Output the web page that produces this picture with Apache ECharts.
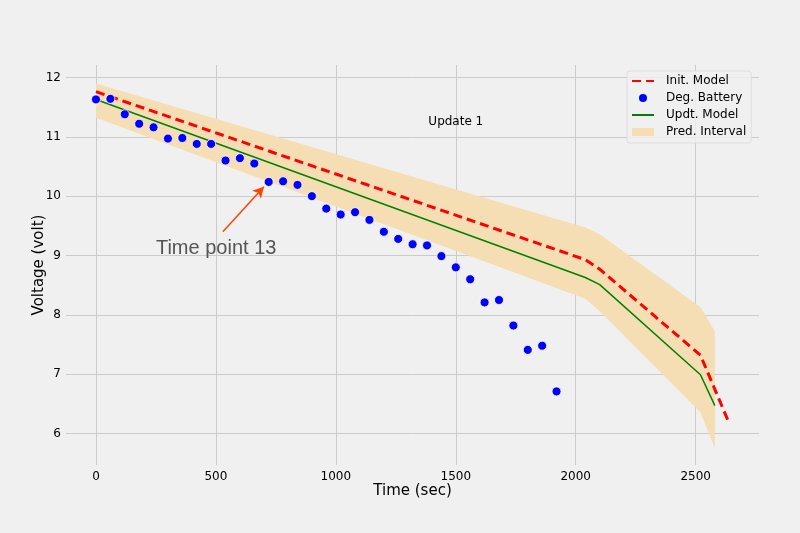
<!DOCTYPE html>
<html>
<head>
<meta charset="utf-8">
<script src="https://cdn.jsdelivr.net/npm/echarts@6/dist/echarts.min.js"></script>
<style>
  html, body { margin: 0; padding: 0; background: #f0f0f0; }
  #chart { width: 800px; height: 533px; }
</style>
</head>
<body>
<div id="chart"></div>
<script>
// measured battery voltage, one sample every 60 s
var batteryTime = [0, 60, 120, 180, 240, 300, 360, 420, 480, 540, 600, 660, 720, 780, 840, 900, 960,
    1020, 1080, 1140, 1200, 1260, 1320, 1380, 1440, 1500, 1560, 1620, 1680, 1740, 1800, 1860, 1920];
var batteryVolt = [11.63, 11.64, 11.38, 11.22, 11.16, 10.97, 10.98, 10.88, 10.88, 10.60, 10.64, 10.55, 10.24,
    10.25, 10.19, 10.00, 9.79, 9.69, 9.73, 9.60, 9.40, 9.28, 9.19, 9.17, 8.99, 8.80, 8.60, 8.21, 8.25, 7.82,
    7.41, 7.48, 6.71];

// initial model
var initTime = [0, 2040, 2100, 2520, 2640];
var initVolt = [11.76, 8.93, 8.77, 7.32, 6.17];

// updated model + prediction interval
var updtTime = [0, 2040, 2100, 2520, 2580];
var updtVolt = [11.63, 8.63, 8.51, 6.99, 6.47];
var bandUpper = [11.90, 9.47, 9.36, 8.13, 7.72];
var bandLower = [11.32, 8.27, 8.06, 6.36, 5.75];

var xTicks = [0, 500, 1000, 1500, 2000, 2500];
var yTicks = [6, 7, 8, 9, 10, 11, 12];

function pairs(xs, ys) {
    var out = [];
    for (var i = 0; i < xs.length; i++) {
        out.push([xs[i], ys[i]]);
    }
    return out;
}

// band rows: time, lower, upper
var bandRows = [];
for (var i = 0; i < updtTime.length; i++) {
    bandRows.push([updtTime[i], bandLower[i], bandUpper[i]]);
}

function renderBand(params, api) {
    if (params.dataIndex !== 0) {
        return null;
    }
    var top = [], bottom = [];
    for (var i = 0; i < bandRows.length; i++) {
        top.push(api.coord([bandRows[i][0], bandRows[i][2]]));
        bottom.unshift(api.coord([bandRows[i][0], bandRows[i][1]]));
    }
    return {
        type: 'polygon',
        shape: {points: top.concat(bottom)},
        style: {fill: '#f5deb3', stroke: null}
    };
}

var chart = echarts.init(document.getElementById('chart'), null, {renderer: 'canvas'});

var option = {
    animation: false,
    backgroundColor: '#f0f0f0',
    textStyle: {fontFamily: 'DejaVu Sans'},
    grid: {left: 66, right: 41, top: 65, bottom: 68},
    legend: {
        orient: 'vertical',
        left: 627,
        top: 71,
        padding: [4, 5, 5, 4],
        itemGap: 5,
        itemWidth: 22,
        itemHeight: 8,
        backgroundColor: 'rgba(240,240,240,0.85)',
        borderColor: '#dedede',
        borderWidth: 1,
        borderRadius: 3,
        textStyle: {fontSize: 12, color: '#000', fontFamily: 'DejaVu Sans', padding: [0, 0, 0, 7]},
        data: [
            {name: 'Init. Model', itemStyle: {opacity: 0}},
            {name: 'Deg. Battery', icon: 'circle', itemStyle: {color: '#0000ff', borderWidth: 0, opacity: 1}},
            {name: 'Updt. Model', itemStyle: {opacity: 0}},
            {name: 'Pred. Interval', icon: 'rect', itemStyle: {color: '#f5deb3'}}
        ]
    },
    xAxis: {
        type: 'value',
        min: -125,
        max: 2764,
        name: 'Time (sec)',
        nameLocation: 'middle',
        nameGap: 19,
        nameMoveOverlap: false,
        nameTextStyle: {fontSize: 15, color: '#000'},
        axisLine: {show: false},
        axisTick: {show: false, customValues: xTicks},
        axisLabel: {customValues: xTicks, fontSize: 12, color: '#000', margin: 6,
            formatter: function (v) { return String(v); }},
        splitLine: {show: true, lineStyle: {color: '#cbcbcb', width: 1}}
    },
    yAxis: {
        type: 'value',
        min: 5.47,
        max: 12.21,
        name: 'Voltage (volt)',
        nameLocation: 'middle',
        nameGap: 19,
        nameMoveOverlap: false,
        nameTextStyle: {fontSize: 15, color: '#000'},
        axisLine: {show: false},
        axisTick: {show: false, customValues: yTicks},
        axisLabel: {customValues: yTicks, fontSize: 12, color: '#000', margin: 5,
            formatter: function (v) { return String(v); }},
        splitLine: {show: true, lineStyle: {color: '#cbcbcb', width: 1}}
    },
    series: [
        {
            name: 'Pred. Interval',
            type: 'custom',
            silent: true,
            itemStyle: {color: '#f5deb3'},
            renderItem: renderBand,
            encode: {x: 0, y: [1, 2]},
            data: bandRows,
            z: 1
        },
        {
            name: 'Init. Model',
            type: 'line',
            symbol: 'none',
            itemStyle: {color: '#ff0000'},
            lineStyle: {color: '#ff0000', width: 3, type: [9, 5]},
            data: pairs(initTime, initVolt),
            z: 3
        },
        {
            name: 'Updt. Model',
            type: 'line',
            symbol: 'none',
            itemStyle: {color: '#008000'},
            lineStyle: {color: '#008000', width: 1.5},
            data: pairs(updtTime, updtVolt),
            z: 3,
            markLine: {
                silent: true,
                symbol: ['none', 'arrow'],
                symbolSize: [9, 11],
                label: {show: false},
                lineStyle: {color: '#ff4500', width: 1.5, type: 'solid'},
                data: [[{coord: [529, 9.40]}, {coord: [700, 10.16]}]]
            }
        },
        {
            name: 'Deg. Battery',
            type: 'scatter',
            symbol: 'circle',
            symbolSize: 9,
            itemStyle: {color: '#0000ff', borderColor: '#ffffff', borderWidth: 0.8, opacity: 1},
            data: pairs(batteryTime, batteryVolt),
            z: 4,
            markPoint: {
                silent: true,
                symbol: 'circle',
                symbolSize: 0,
                data: [
                    {
                        coord: [250, 9.12],
                        label: {show: true, position: 'right', distance: 0, formatter: 'Time point 13',
                            fontFamily: 'Liberation Sans', fontSize: 20, color: '#555555'}
                    },
                    {
                        coord: [1500, 11.25],
                        label: {show: true, position: 'inside', formatter: 'Update 1',
                            fontFamily: 'DejaVu Sans', fontSize: 12, color: '#000'}
                    }
                ]
            }
        }
    ]
};

chart.setOption(option);
</script>
</body>
</html>
